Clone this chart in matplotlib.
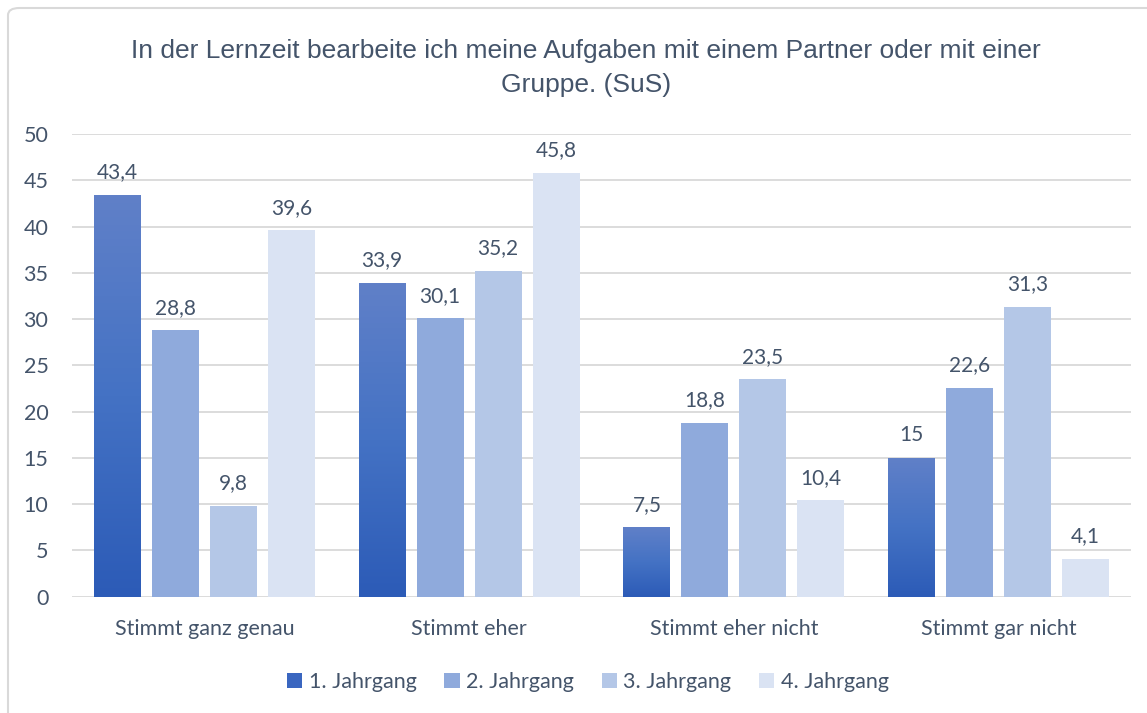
import matplotlib

matplotlib.use("Agg")

import matplotlib.pyplot as plt
import numpy as np
from matplotlib.colors import LinearSegmentedColormap
from matplotlib.patches import FancyBboxPatch, Patch

TITLE = "In der Lernzeit bearbeite ich meine Aufgaben mit einem Partner oder mit einer\nGruppe. (SuS)"
CATEGORIES = ["Stimmt ganz genau", "Stimmt eher", "Stimmt eher nicht", "Stimmt gar nicht"]
SERIES = ["1. Jahrgang", "2. Jahrgang", "3. Jahrgang", "4. Jahrgang"]
JG1 = [43.4, 33.9, 7.5, 15]
JG2 = [28.8, 30.1, 18.8, 22.6]
JG3 = [9.8, 35.2, 23.5, 31.3]
JG4 = [39.6, 45.8, 10.4, 4.1]
LABELS = [
    ["43,4", "33,9", "7,5", "15"],
    ["28,8", "30,1", "18,8", "22,6"],
    ["9,8", "35,2", "23,5", "31,3"],
    ["39,6", "45,8", "10,4", "4,1"],
]

TEXT = "#44546a"
COLORS = ["#3a66c0", "#8faadc", "#b4c7e7", "#dae3f3"]
GRADIENT = LinearSegmentedColormap.from_list("g", ["#2c5bb7", "#4472c4", "#6080c8"])
FONT = ["Lato", "DejaVu Sans"]
TITLE_FONT = ["Liberation Sans", "DejaVu Sans"]


def main():
    fig = plt.figure(figsize=(11.47, 7.13), dpi=100)
    frame = FancyBboxPatch((8 / 1147, -0.05), 1.2, 1.05 - 8 / 713,
                           boxstyle="round,pad=0,rounding_size=0.01",
                           transform=fig.transFigure, facecolor="white",
                           edgecolor="#d9d9d9", linewidth=1.5, zorder=-10)
    fig.patches.append(frame)
    ax = fig.add_axes([72 / 1147, 1 - 596.7 / 713, (1131 - 72) / 1147, (596.7 - 134) / 713])
    ax.set_facecolor("none")

    x = np.arange(len(CATEGORIES))
    step = 0.219
    width = 0.177
    all_values = [JG1, JG2, JG3, JG4]
    for i, (values, color) in enumerate(zip(all_values, COLORS)):
        pos = x + (i - 1.5) * step
        bars = ax.bar(pos, values, width=width, color=color, zorder=3)
        if i == 0:
            grad = np.linspace(0, 1, 256).reshape(-1, 1)
            for bar in bars:
                bx, by = bar.get_x(), bar.get_y()
                bw, bh = bar.get_width(), bar.get_height()
                img = ax.imshow(grad, cmap=GRADIENT, origin="lower", aspect="auto",
                                extent=[bx, bx + bw, by, by + bh], zorder=4)
                img.set_clip_path(bar)
        for px, v, lab in zip(pos, values, LABELS[i]):
            ax.annotate(lab, (px, v), xytext=(0, 9), textcoords="offset points", ha="center",
                        va="bottom", fontsize=15, color=TEXT, family=FONT)

    ax.set_xlim(-0.5, len(CATEGORIES) - 0.5)
    ax.set_ylim(0, 50)
    ax.set_yticks(np.arange(0, 51, 5))
    ax.set_xticks(x)
    ax.set_xticklabels(CATEGORIES, fontsize=15.5, color=TEXT, family=FONT)
    for lab in ax.get_yticklabels():
        lab.set_fontsize(15.5)
        lab.set_color(TEXT)
        lab.set_family(FONT)
    ax.tick_params(axis="both", length=0)
    ax.tick_params(axis="y", pad=17)
    ax.tick_params(axis="x", pad=16)
    ax.grid(axis="y", color="#d9d9d9", linewidth=1.3, zorder=0)
    for spine in ax.spines.values():
        spine.set_visible(False)

    fig.text(586 / 1147, 1 - 68 / 713, TITLE, ha="center", va="center", fontsize=19,
             color=TEXT, family=TITLE_FONT, linespacing=1.55)

    handles = [Patch(facecolor=c, edgecolor="none") for c in COLORS]
    fig.legend(handles, SERIES, loc="center", bbox_to_anchor=(588 / 1147, 1 - 682 / 713), ncol=4,
               frameon=False, prop={"family": FONT, "size": 15.5}, labelcolor=TEXT,
               handlelength=0.7, handleheight=0.7, handletextpad=0.3, columnspacing=1.3)

    fig.savefig("out.png", dpi=100)
    plt.close(fig)


if __name__ == "__main__":
    main()
